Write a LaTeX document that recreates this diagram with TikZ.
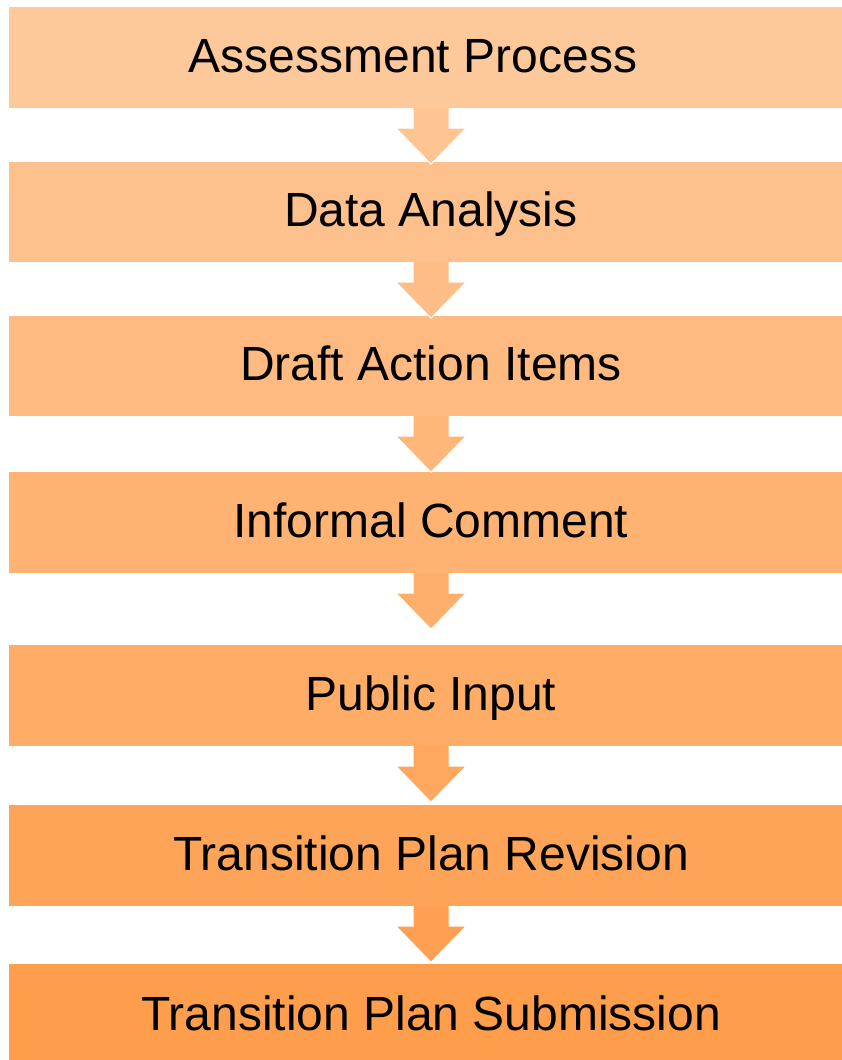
\documentclass[tikz,border=0pt]{standalone}
\usepackage{fontspec}
\setmainfont{Liberation Sans}
\usetikzlibrary{calc}
\definecolor{c1}{RGB}{254,201,154}
\definecolor{c2}{RGB}{254,193,141}
\definecolor{c3}{RGB}{254,186,128}
\definecolor{c4}{RGB}{254,179,115}
\definecolor{c5}{RGB}{254,172,102}
\definecolor{c6}{RGB}{254,164,89}
\definecolor{c7}{RGB}{254,157,76}
\newcommand\flowarr[3]{%
  \filldraw[flowarrow, fill=#3]
    ($(#1.south)+(-18pt,0pt)$) -- ($(#1.south)+(-18pt,-20pt)$) --
    ($(#1.south)+(-35pt,-20pt)$) -- ($(#1.south)+(0pt,-56pt)$) --
    ($(#1.south)+(35pt,-20pt)$) -- ($(#1.south)+(18pt,-20pt)$) --
    ($(#1.south)+(18pt,0pt)$);}
\begin{document}
\begin{tikzpicture}[x=1pt,y=-1pt,
  stepbox/.style={minimum width=844pt, minimum height=100pt, inner sep=0pt,
    text height=29.4pt, text depth=0pt, font=\fontsize{48}{50}\selectfont},
  flowarrow/.style={draw=white, line width=1pt, line join=miter}]
\useasboundingbox[fill=white] (0,0) rectangle (841,1060);
\node[stepbox, fill=c1, minimum height=101pt] (b1) at (431,57.5) {\hspace*{-36pt}Assessment Process};
\node[stepbox, fill=c2] (b2) at (431,212) {Data Analysis};
\node[stepbox, fill=c3] (b3) at (431,366) {Draft Action Items};
\node[stepbox, fill=c4, minimum height=101pt] (b4) at (431,522.5) {Informal Comment};
\node[stepbox, fill=c5, minimum height=101pt] (b5) at (431,695.5) {Public Input};
\node[stepbox, fill=c6, minimum height=101pt] (b6) at (431,855.5) {Transition Plan Revision};
\node[stepbox, fill=c7, minimum height=102.6pt] (b7) at (431,1015.3) {Transition Plan Submission};
\flowarr{b1}{b2}{c1!50!c2}
\flowarr{b2}{b3}{c2!50!c3}
\flowarr{b3}{b4}{c3!50!c4}
\flowarr{b4}{b5}{c4!50!c5}
\flowarr{b5}{b6}{c5!50!c6}
\flowarr{b6}{b7}{c6!50!c7}
\end{tikzpicture}
\end{document}
